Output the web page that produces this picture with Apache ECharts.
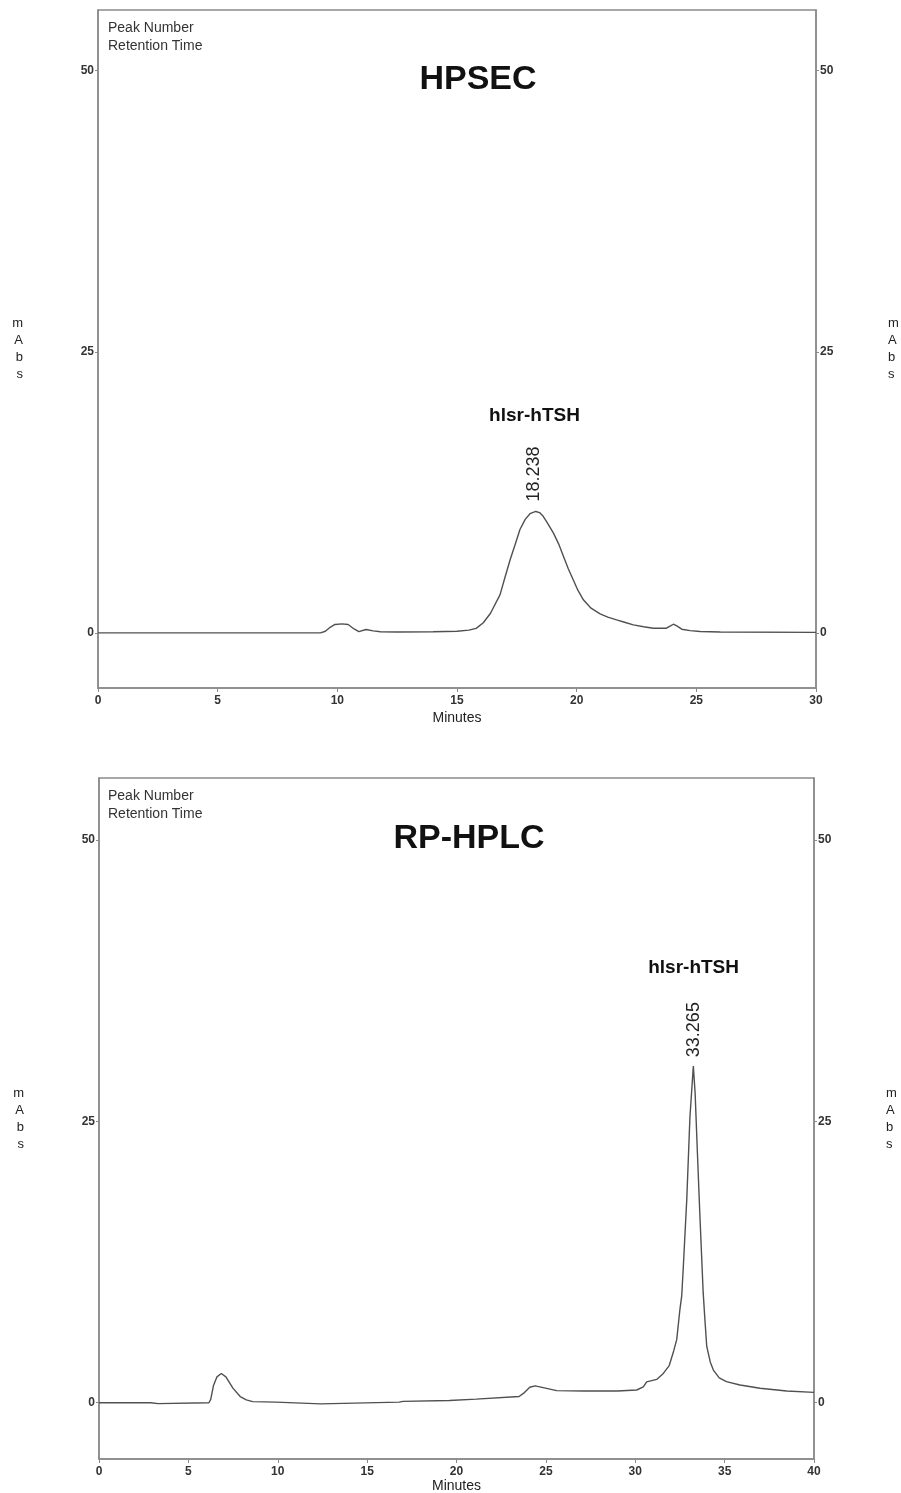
<!DOCTYPE html>
<html>
<head>
<meta charset="utf-8">
<script src="https://cdn.jsdelivr.net/npm/echarts@6/dist/echarts.min.js"></script>
<style>
html,body{margin:0;padding:0;background:#fff;overflow:hidden;}
#chart{width:901px;height:1493px;}
</style>
</head>
<body>
<div id="chart"></div>
<script>
// ---- HPSEC trace (minutes, mAbs) ----
const hpsecTime = [0,9.3,9.5,9.7,9.9,10.2,10.45,10.7,10.9,11.2,11.5,11.8,12.5,14,15,15.5,15.8,16.1,16.4,16.8,17.0,17.22,17.45,17.63,17.85,18.05,18.29,18.45,18.61,18.8,19.03,19.25,19.45,19.65,19.86,20.05,20.28,20.6,20.98,21.3,21.67,22.0,22.37,22.8,23.2,23.75,23.9,24.04,24.2,24.39,24.74,25.16,26,30];
const hpsecAbs  = [0,0,0.15,0.5,0.75,0.8,0.75,0.35,0.12,0.3,0.18,0.1,0.08,0.1,0.15,0.25,0.4,0.9,1.75,3.4,4.9,6.5,8.0,9.2,10.1,10.6,10.8,10.7,10.35,9.7,8.87,7.9,6.8,5.7,4.7,3.8,2.94,2.2,1.69,1.4,1.16,0.95,0.71,0.55,0.42,0.42,0.6,0.77,0.6,0.33,0.2,0.12,0.08,0.05];
// ---- RP-HPLC trace (minutes, mAbs) ----
const rpTime = [0,2.9,3.0,3.3,3.4,6.15,6.25,6.4,6.6,6.84,7.1,7.49,7.9,8.24,8.6,9.9,10.0,12.4,12.5,16.8,17.0,19.6,21.1,21.2,23.5,23.8,24.1,24.4,25.04,25.6,27.1,29,30.08,30.45,30.64,31.2,31.57,31.9,32.15,32.32,32.5,32.6,32.69,32.88,33.06,33.25,33.35,33.47,33.62,33.8,33.9,34.0,34.2,34.37,34.7,35.1,35.86,36.98,38.47,40];
const rpAbs  = [0,0,-0.08,-0.08,0,0,0.3,1.5,2.3,2.6,2.3,1.3,0.55,0.25,0.1,0.05,-0.08,-0.1,0.02,0.05,0.12,0.2,0.32,0.47,0.55,0.9,1.37,1.5,1.27,1.07,1.04,1.04,1.13,1.4,1.85,2.07,2.6,3.3,4.6,5.6,8.3,9.5,12.1,18.0,25.4,29.9,27.5,22.5,16.5,9.8,7.3,5.0,3.6,2.9,2.2,1.87,1.57,1.28,1.04,0.92];
// ---- peak annotations ----
const peakNames = ['hlsr-hTSH','hlsr-hTSH'];
const peakTimes = [18.238, 33.265];
const peakHeights = [10.8, 29.9];
const panelTitles = ['HPSEC','RP-HPLC'];
const xMax = [30, 40];
const yTicks = [0, 25, 50];
const yRange = [[-4.9, 55.4], [-5.0, 55.5]];

const FONT = 'Liberation Sans, Arial, Helvetica, sans-serif';
const AX = '#8a8a8a';
const TXT = '#222';

function pairs(t, v){ return t.map((x,i)=>[x, v[i]]); }

function xAxisFor(gi){
  return {
    type:'value', gridIndex:gi, min:0, max:xMax[gi], interval:5,
    name:'Minutes', nameLocation:'middle', nameGap: gi===0 ? 23 : 20,
    nameTextStyle:{fontFamily:FONT, fontSize:14, color:TXT},
    axisLine:{show:true, onZero:false, lineStyle:{color:AX, width:1.5}},
    axisTick:{show:true, length:4, lineStyle:{color:AX}},
    axisLabel:{fontFamily:FONT, fontSize:12, fontWeight:'bold', color:'#333', margin:7},
    splitLine:{show:false}
  };
}
function yAxisFor(gi, pos){
  return {
    type:'value', gridIndex:gi, position:pos,
    min:yRange[gi][0], max:yRange[gi][1],
    name:'m\nA\nb\ns', nameLocation:'middle', nameRotate:0,
    nameGap: pos==='left' ? 75 : 72,
    nameTextStyle:{fontFamily:FONT, fontSize:13, color:TXT, lineHeight:17},
    axisLine:{show:true, onZero:false, lineStyle:{color:AX, width:1.5}},
    axisTick:{show:true, length:3, customValues:yTicks, lineStyle:{color:AX}},
    axisLabel:{fontFamily:FONT, fontSize:12, fontWeight:'bold', color:'#333', margin:4, customValues:yTicks},
    splitLine:{show:false}
  };
}

const option = {
  backgroundColor:'#fff',
  animation:false,
  title:[
    {text:panelTitles[0], left:473, top:58, textAlign:'center',
     textStyle:{fontFamily:FONT, fontSize:34, fontWeight:'bold', color:'#111'}},
    {text:panelTitles[1], left:464, top:817, textAlign:'center',
     textStyle:{fontFamily:FONT, fontSize:34, fontWeight:'bold', color:'#111'}},
    {text:'Peak Number\nRetention Time', left:103, top:14,
     textStyle:{fontFamily:FONT, fontSize:14, fontWeight:'normal', color:'#333', lineHeight:18}},
    {text:'Peak Number\nRetention Time', left:103, top:782,
     textStyle:{fontFamily:FONT, fontSize:14, fontWeight:'normal', color:'#333', lineHeight:18}}
  ],
  grid:[
    {left:98, right:85, top:10, height:678, show:true, borderColor:AX, borderWidth:1.5, backgroundColor:'#fff', outerBoundsMode:'none', containLabel:false},
    {left:99, right:87, top:778, height:681, show:true, borderColor:AX, borderWidth:1.5, backgroundColor:'#fff', outerBoundsMode:'none', containLabel:false}
  ],
  xAxis:[xAxisFor(0), xAxisFor(1)],
  yAxis:[yAxisFor(0,'left'), yAxisFor(0,'right'), yAxisFor(1,'left'), yAxisFor(1,'right')],
  series:[
    {type:'line', xAxisIndex:0, yAxisIndex:0, data:pairs(hpsecTime,hpsecAbs),
     showSymbol:false, smooth:false, lineStyle:{color:'#505050', width:1.4}, silent:true},
    {type:'line', xAxisIndex:1, yAxisIndex:2, data:pairs(rpTime,rpAbs),
     showSymbol:false, smooth:false, lineStyle:{color:'#505050', width:1.4}, silent:true},
    // retention time labels (rotated)
    {type:'scatter', xAxisIndex:0, yAxisIndex:0, symbolSize:0, silent:true, itemStyle:{opacity:1},
     data:[[peakTimes[0], peakHeights[0]]],
     label:{show:true, position:'top', distance:10, rotate:90, align:'left', verticalAlign:'middle',
       formatter:()=>peakTimes[0].toFixed(3), fontFamily:FONT, fontSize:18, color:'#222'}},
    {type:'scatter', xAxisIndex:1, yAxisIndex:2, symbolSize:0, silent:true, itemStyle:{opacity:1},
     data:[[peakTimes[1], peakHeights[1]]],
     label:{show:true, position:'top', distance:9, rotate:90, align:'left', verticalAlign:'middle',
       formatter:()=>peakTimes[1].toFixed(3), fontFamily:FONT, fontSize:18, color:'#222'}},
    // peak names
    {type:'scatter', xAxisIndex:0, yAxisIndex:0, symbolSize:0, silent:true, itemStyle:{opacity:1},
     data:[[peakTimes[0], peakHeights[0]]],
     label:{show:true, position:'top', distance:86, formatter:peakNames[0],
       fontFamily:FONT, fontSize:19, fontWeight:'bold', color:'#111'}},
    {type:'scatter', xAxisIndex:1, yAxisIndex:2, symbolSize:0, silent:true, itemStyle:{opacity:1},
     data:[[peakTimes[1], peakHeights[1]]],
     label:{show:true, position:'top', distance:89, formatter:peakNames[1],
       fontFamily:FONT, fontSize:19, fontWeight:'bold', color:'#111'}}
  ]
};

const chart = echarts.init(document.getElementById('chart'), null, {renderer:'canvas'});
chart.setOption(option);
</script>
</body>
</html>
